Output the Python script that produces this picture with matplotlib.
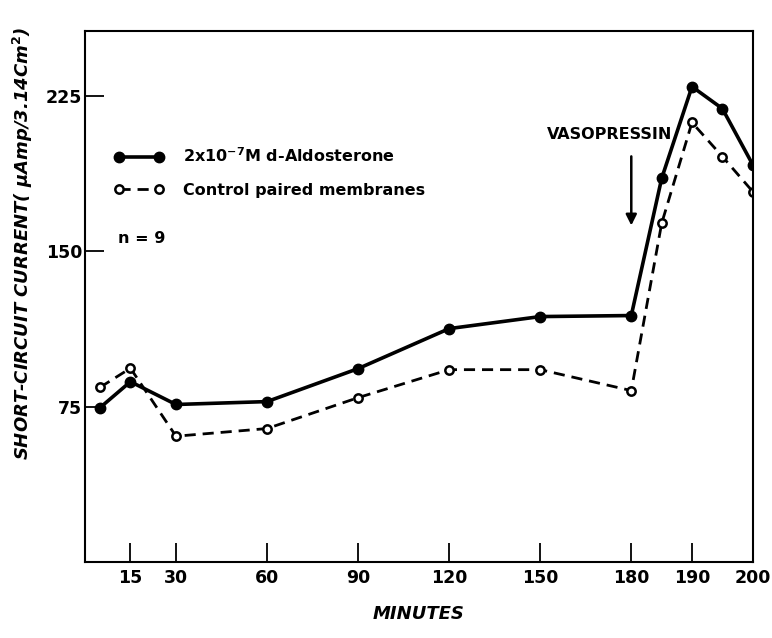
import numpy as np
import matplotlib
matplotlib.use('Agg')
import matplotlib.pyplot as plt

# data
minutes = [5, 15, 30, 60, 90, 120, 150, 180, 185, 190, 195, 200]
aldosterone = [74.5, 87, 76, 77.4, 93.3, 112.6, 118.4, 118.9, 185, 229.3, 218.7, 191.7]
control = [84.3, 93.5, 60.7, 64.4, 79.3, 92.8, 92.8, 82.7, 163.3, 212, 195.6, 178.7]
x_ticks = [15, 30, 60, 90, 120, 150, 180, 190, 200]
y_ticks = [75, 150, 225]


# time axis is stretched after 180 min (10 min takes 2x the space)
def fwd(t):
	t = np.asarray(t, dtype=float)
	return np.where(t <= 180, t, 180 + 2 * (t - 180))

def inv(u):
	u = np.asarray(u, dtype=float)
	return np.where(u <= 180, u, 180 + (u - 180) / 2)


plt.rcParams['font.family'] = 'DejaVu Sans'
plt.rcParams['font.weight'] = 'bold'

fig = plt.figure(figsize=(7.72, 6.38), dpi=100)
ax = fig.add_axes([0.110, 0.119, 0.865, 0.832])
ax.set_xscale('function', functions=(fwd, inv))

ax.plot(minutes, aldosterone, '-', color='black', lw=2.6, marker='o', ms=7.5,
	mfc='black', mec='black', label='2x10$^{-7}$M d-Aldosterone')
ax.plot(minutes, control, '--', color='black', lw=2.0, dashes=(4, 2.5), marker='o', ms=6,
	mfc='white', mec='black', mew=1.8, label='Control paired membranes')

ax.set_xlim(0, 200)
ax.set_ylim(0, 256)
ax.set_xticks(x_ticks)
ax.set_yticks(y_ticks)
ax.tick_params(axis='both', direction='in', length=14, width=1.3, labelsize=12.5)
ax.tick_params(axis='x', pad=5)
ax.tick_params(axis='y', pad=2)
for s in ax.spines.values():
	s.set_linewidth(1.5)

leg = ax.legend(loc='upper left', bbox_to_anchor=(0.022, 0.81), frameon=False, numpoints=2,
	handlelength=3.1, handletextpad=1.2, labelspacing=1.1, fontsize=11.5)
ax.text(0.05, 0.61, 'n = 9', transform=ax.transAxes, fontsize=11.5, fontweight='bold',
	va='center')

ax.annotate('', xy=(180, 161), xytext=(180, 197),
	arrowprops=dict(arrowstyle='-|>', color='black', lw=1.8, mutation_scale=16))
ax.text(173, 206, 'VASOPRESSIN', ha='center', va='center', fontsize=11.5, fontweight='bold')

ax.set_xlabel('MINUTES', fontsize=13, fontstyle='italic', fontweight='bold')
ax.xaxis.set_label_coords(0.5, -0.08)
ax.set_ylabel('SHORT-CIRCUIT CURRENT( μAmp/3.14Cm$^{2}$)', fontsize=13,
	fontstyle='italic', fontweight='bold')
ax.yaxis.set_label_coords(-0.075, 0.6)

plt.savefig('out.png', dpi=100)
